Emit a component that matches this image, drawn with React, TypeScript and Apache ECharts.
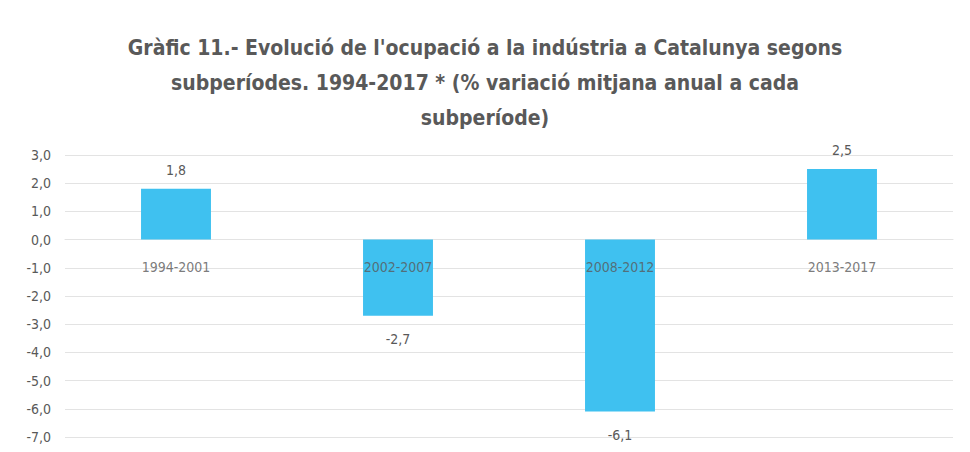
import React, { useEffect, useRef } from "react";
import * as echarts from "echarts";

const categories = ["1994-2001", "2002-2007", "2008-2012", "2013-2017"];
const values = [1.8, -2.7, -6.1, 2.5];
const yMin = -7;
const yMax = 3;
const yInterval = 1;
const titleText =
  "Gràfic 11.- Evolució de l'ocupació a la indústria a Catalunya segons\nsubperíodes. 1994-2017 * (% variació mitjana anual a cada\nsubperíode)";

const FONT = "'Liberation Sans Narrow', 'DejaVu Sans Condensed', sans-serif";
const fmt = (v: number) => v.toFixed(1).replace(".", ",");

export default function App() {
  const ref = useRef<HTMLDivElement>(null);
  useEffect(() => {
    if (!ref.current) return;
    const chart = echarts.init(ref.current, undefined, { renderer: "svg" });
    chart.setOption({
      animation: false,
      backgroundColor: "#ffffff",
      title: {
        text: titleText,
        left: "center",
        top: 17,
        textStyle: {
          fontFamily: FONT,
          fontSize: 21,
          fontWeight: "bold",
          color: "#595959",
          lineHeight: 35,
        },
      },
      grid: { left: 57, right: 9, top: 147, bottom: 6, containLabel: false },
      xAxis: {
        type: "category",
        data: categories,
        axisLine: { show: true, onZero: true, lineStyle: { color: "#e3e3e3" } },
        axisTick: { show: false },
        axisLabel: { show: false },
      },
      yAxis: {
        type: "value",
        min: yMin,
        max: yMax,
        interval: yInterval,
        axisLine: { show: false },
        axisTick: { show: false },
        splitLine: { lineStyle: { color: "#e3e3e3" } },
        axisLabel: {
          margin: 14,
          formatter: (v: number) => fmt(v),
          fontFamily: FONT,
          fontSize: 14,
          color: "#595959",
        },
      },
      series: [
        {
          type: "bar",
          data: values.map((v) => ({
            value: v,
            label: {
              show: true,
              position: v >= 0 ? "top" : "bottom",
              distance: v >= 0 ? 12 : 16,
              formatter: () => fmt(v),
              fontFamily: FONT,
              fontSize: 14,
              color: "#595959",
            },
          })),
          barWidth: "31.5%",
          itemStyle: { color: "#3fc1f0" },
        },
        {
          type: "scatter",
          z: 10,
          symbolSize: 2,
          itemStyle: { color: "rgba(0,0,0,0)" },
          silent: true,
          data: categories.map((c, i) => ({ name: c, value: [i, 0] })),
          label: {
            show: true,
            position: "bottom",
            distance: 19,
            formatter: (p: any) => categories[p.dataIndex],
            fontFamily: FONT,
            fontSize: 14,
            color: "#595959",
          },
          labelLayout: { hideOverlap: false },
        },
      ],
    });
    return () => chart.dispose();
  }, []);
  return <div ref={ref} style={{ width: 954, height: 436 }} />;
}
